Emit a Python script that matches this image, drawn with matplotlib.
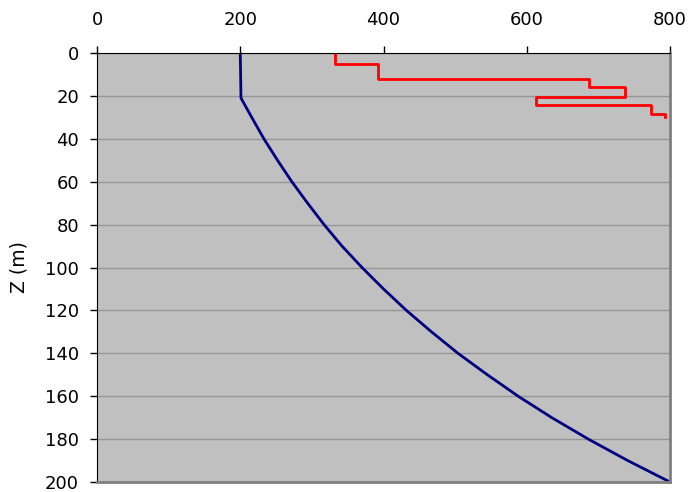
import numpy as np
import matplotlib.pyplot as plt

# profil kecepatan (biru)
z_biru = [0, 21, 30, 40, 50, 60, 70, 80, 90, 100, 110, 120, 130, 140, 150, 160, 170, 180, 190, 200]
v_biru = [200, 201, 216, 233, 252, 272, 294, 317, 342, 370, 400, 432, 467, 504, 545, 588, 635, 686, 741, 800]

# profil lapisan (merah)
batas_lapisan = [0, 5, 12, 16, 20.6, 24.2, 28.5, 30]
v_lapisan = [332, 392, 687, 737, 613, 774, 793]

# bikin titik tangga
xm = []
zm = []
for i in range(len(v_lapisan)):
    xm += [v_lapisan[i], v_lapisan[i]]
    zm += [batas_lapisan[i], batas_lapisan[i+1]]

fig = plt.figure(figsize=(6.94, 4.92), dpi=100)
ax = fig.add_axes([0.1398, 0.0203, 0.8256, 0.872])
ax.set_facecolor('#c0c0c0')

ax.plot(v_biru, z_biru, color='#000080', lw=2)
ax.plot(xm, zm, color='#ff0000', lw=2)

ax.set_xlim(0, 800)
ax.set_ylim(200, 0)
ax.set_xticks(np.arange(0, 801, 200))
ax.set_yticks(np.arange(0, 201, 20))
ax.xaxis.tick_top()
ax.tick_params(axis='both', labelsize=13, length=5, width=1, direction='out')
ax.tick_params(axis='y', pad=8)
ax.tick_params(axis='x', pad=12)
ax.yaxis.grid(True, color='#969696', lw=1)
ax.set_axisbelow(True)

ax.spines['left'].set_color('black')
ax.spines['top'].set_color('black')
ax.spines['right'].set_color('#808080')
ax.spines['right'].set_linewidth(2)
ax.spines['bottom'].set_color('#808080')
ax.spines['bottom'].set_linewidth(2)

ax.set_ylabel('Z (m)', fontsize=13.5, labelpad=12)

fig.savefig('out.png', dpi=100)
